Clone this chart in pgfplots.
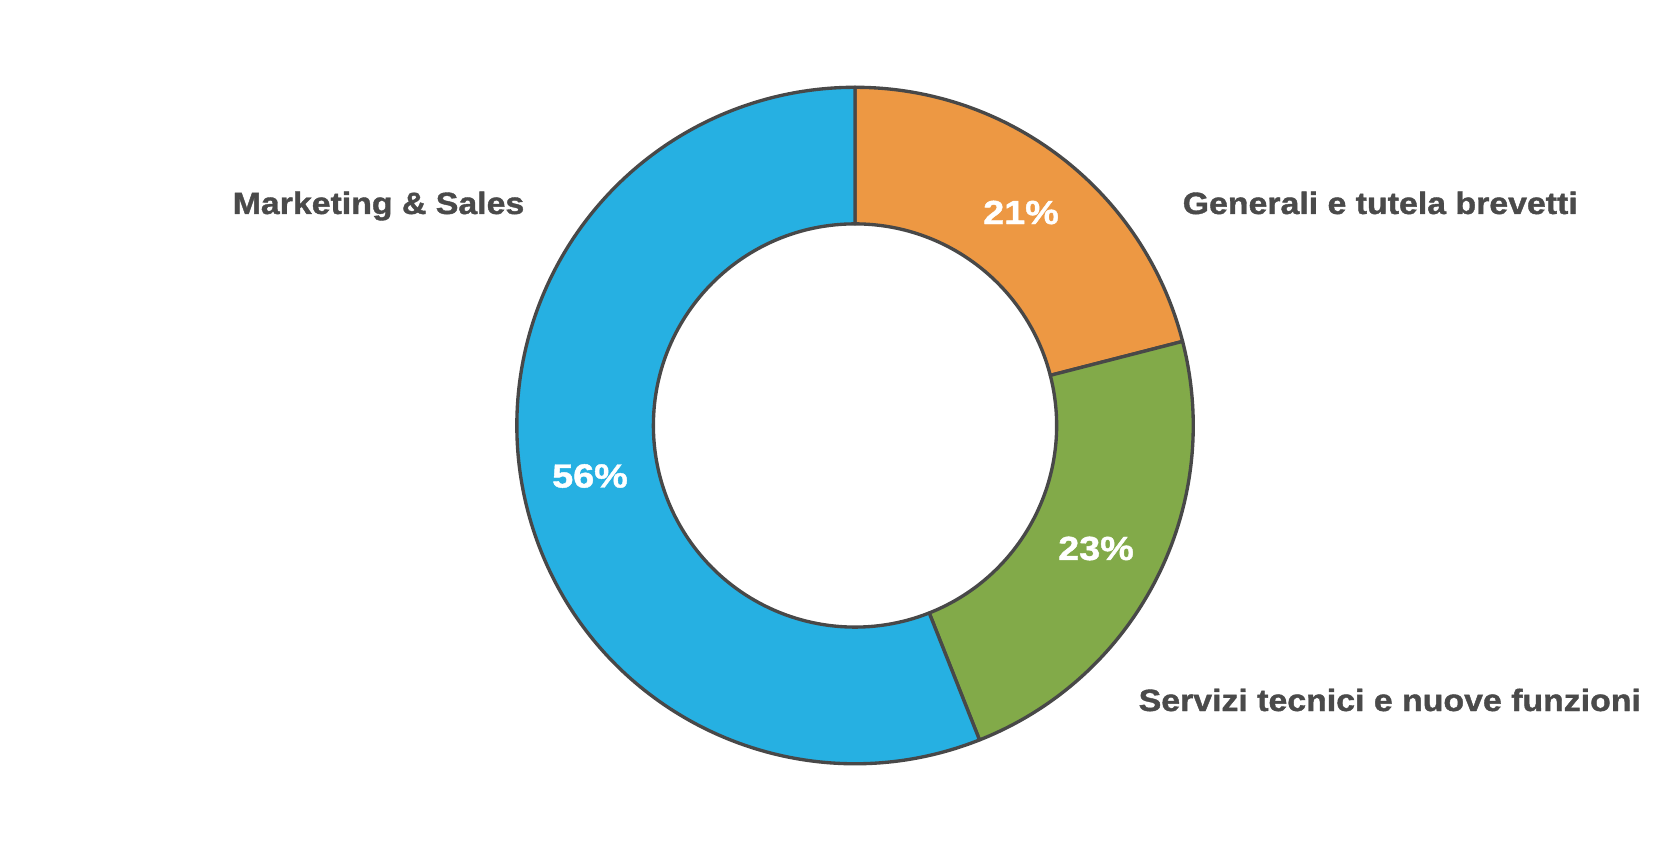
\documentclass[border=0pt]{standalone}
\usepackage{pgfplots}
\pgfplotsset{compat=1.18}
\usepackage{pgfplotstable}
\usepackage{fontspec}
\setmainfont{Liberation Sans}
\newfontfamily\lblfont[FakeStretch=1.1, FakeBold=1.3]{Liberation Sans}
\newfontfamily\pctfont[FakeStretch=1.13, FakeBold=1.3]{Liberation Sans}
\definecolor{cblue}{RGB}{38,176,226}
\definecolor{corange}{RGB}{237,152,67}
\definecolor{cgreen}{RGB}{130,170,73}
\definecolor{edge}{RGB}{72,72,72}
\definecolor{txt}{RGB}{74,74,74}

\pgfplotstableread{
label value
Generali 21
Servizi 23
Marketing 56
}\datatable
\pgfplotstablegetelem{0}{value}\of\datatable \let\vA\pgfplotsretval
\pgfplotstablegetelem{1}{value}\of\datatable \let\vB\pgfplotsretval
\pgfplotstablegetelem{2}{value}\of\datatable \let\vC\pgfplotsretval
\pgfmathsetmacro\aA{90}
\pgfmathsetmacro\aB{\aA-3.6*\vA}
\pgfmathsetmacro\aC{\aB-3.6*\vB}
\pgfmathsetmacro\aD{\aC-3.6*\vC}

% slice: start angle, end angle, colour
\newcommand\slice[3]{%
  \filldraw[fill=#3, draw=edge, line width=0.95pt, line join=round]
    ([shift={(#1:3.38cm)}]axis cs:855,417.5)
    arc[start angle=#1, end angle=#2, radius=3.38cm]
    -- ([shift={(#2:2.015cm)}]axis cs:855,417.5)
    arc[start angle=#2, end angle=#1, radius=2.015cm]
    -- cycle;}

\begin{document}
\begin{tikzpicture}
\begin{axis}[
  x=0.01cm, y=0.01cm,
  xmin=0, xmax=1657, ymin=0, ymax=843,
  hide axis, clip=false,
]
\path (axis cs:0,0) rectangle (axis cs:1657,843);
\slice{\aA}{\aB}{corange}
\slice{\aB}{\aC}{cgreen}
\slice{\aC}{\aD}{cblue}

\node[text=white, font=\pctfont\bfseries\fontsize{9.5}{10}\selectfont, anchor=center]
  at (axis cs:1021,630.5) {\vA\%};
\node[text=white, font=\pctfont\bfseries\fontsize{9.5}{10}\selectfont, anchor=center]
  at (axis cs:1096,294.5) {\vB\%};
\node[text=white, font=\pctfont\bfseries\fontsize{9.5}{10}\selectfont, anchor=center]
  at (axis cs:590,367) {\vC\%};

\node[text=txt, font=\lblfont\bfseries\fontsize{8.75}{10}\selectfont, anchor=base east, inner sep=0pt]
  at (axis cs:525,629) {Marketing \& Sales};
\node[text=txt, font=\lblfont\bfseries\fontsize{8.75}{10}\selectfont, anchor=base west, inner sep=0pt]
  at (axis cs:1182,629) {Generali e tutela brevetti};
\node[text=txt, font=\lblfont\bfseries\fontsize{8.75}{10}\selectfont, anchor=base west, inner sep=0pt]
  at (axis cs:1138,132) {Servizi tecnici e nuove funzioni};
\end{axis}
\end{tikzpicture}
\end{document}
